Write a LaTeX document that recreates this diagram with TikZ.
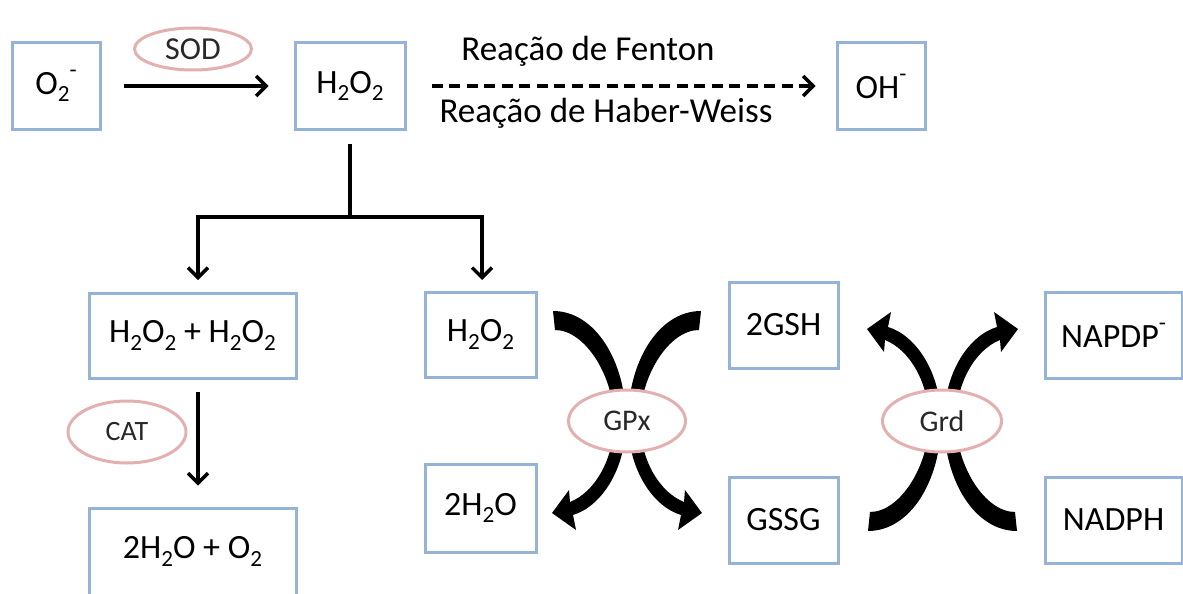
\documentclass[tikz,border=0pt]{standalone}
\usepackage{fontspec}
\setmainfont{Carlito}
\usetikzlibrary{arrows.meta,shapes.geometric}
\definecolor{boxblue}{RGB}{149,179,215}
\definecolor{ellpink}{RGB}{228,176,175}
\definecolor{elltext}{RGB}{40,40,40}
\newcommand{\chsub}[1]{\raisebox{-0.22em}{\scalebox{0.68}{#1}}}
\newcommand{\chsup}[1]{\raisebox{0.5em}{\scalebox{0.68}{#1}}}
\newcommand{\curvedarrowshape}{%
  \fill[black] (-67,-110) .. controls (-25,-110) and (6,-60) .. (6,0)
    .. controls (6,50) and (-20,86) .. (-47,94) -- (-44,109) -- (-68,92) -- (-51,69) -- (-50,81)
    .. controls (-25,71) and (-6,38) .. (-6,0)
    .. controls (-6,-45) and (-35,-91) .. (-65,-91) -- cycle;}
\tikzset{
  box/.style={draw=boxblue, line width=3pt, inner sep=0pt, font=\fontsize{34}{40}\selectfont, text=black},
  enz/.style={ellipse, draw=ellpink, line width=3pt, fill=white, inner sep=0pt, font=\fontsize{30}{36}\selectfont, text=elltext},
  conn/.style={line width=3.5pt, black},
  arr/.style={conn, -{Straight Barb[length=10pt,width=20pt]}},
  lbl/.style={font=\fontsize{35}{42}\selectfont, inner sep=0pt, text=black}
}
\begin{document}
\begin{tikzpicture}[x=1pt,y=-1pt]
\useasboundingbox (0,0) rectangle (1183,594);
\clip (0,0) rectangle (1183,594);
\fill[white] (0,0) rectangle (1183,594);

% boxes
\node[box, minimum width=88pt, minimum height=86pt] (o2m) at (56,86) {O\chsub{2}\chsup{-}};
\node[box, minimum width=110pt, minimum height=86pt] (h2o2top) at (350,86) {H\chsub{2}O\chsub{2}};
\node[box, minimum width=88pt, minimum height=86pt] (oh) at (881,86) {OH\chsup{-}};
\node[box, minimum width=207pt, minimum height=85pt] (hh) at (192.5,335.5) {H\chsub{2}O\chsub{2} + H\chsub{2}O\chsub{2}};
\node[box, minimum width=207pt, minimum height=87pt] (wo) at (192.5,551.5) {2H\chsub{2}O + O\chsub{2}};
\node[box, minimum width=111pt, minimum height=85pt] (h2o2mid) at (480.5,334.5) {H\chsub{2}O\chsub{2}};
\node[box, minimum width=111pt, minimum height=88pt] (h2o) at (480.5,508) {2H\chsub{2}O};
\node[box, minimum width=109pt, minimum height=86pt] (gsh) at (783.5,325) {2GSH};
\node[box, minimum width=109pt, minimum height=86pt] (gssg) at (783.5,520) {GSSG};
\node[box, minimum width=137pt, minimum height=86pt] (napdp) at (1113.5,335) {NAPDP\chsup{-}};
\node[box, minimum width=137pt, minimum height=86pt] (nadph) at (1113.5,520) {NADPH};

% top arrows
\draw[arr] ([xshift=22pt]o2m.east) -- ([xshift=-25pt]h2o2top.west);
\draw[arr, dash pattern=on 11pt off 6.5pt] ([xshift=25pt]h2o2top.east) -- ([xshift=-20pt]oh.west);
\node[lbl, anchor=base] (fenton) at (588,60) {Reação de Fenton};
\node[lbl, anchor=base] (haber) at (606,122) {Reação de Haber-Weiss};

% split
\coordinate (split) at (350,217);
\coordinate (tl) at (198,280);
\coordinate (tr) at (482,280);
\draw[conn] ([yshift=-13pt]h2o2top.south) -- (split);
\draw[arr] (split) -| (tl);
\draw[arr] (split) -| (tr);

% catalase arrow
\draw[arr] ([xshift=5.5pt,yshift=-12pt]hh.south) -- ([xshift=5.5pt,yshift=21pt]wo.north);

% curved arrows
\begin{scope}[shift={(620,421)}] \curvedarrowshape \end{scope}
\begin{scope}[shift={(634,421)}, xscale=-1] \curvedarrowshape \end{scope}
\begin{scope}[shift={(935,421)}, yscale=-1] \curvedarrowshape \end{scope}
\begin{scope}[shift={(950,421)}, xscale=-1, yscale=-1] \curvedarrowshape \end{scope}

% enzymes
\node[enz, minimum width=117pt, minimum height=42pt, font=\fontsize{32}{38}\selectfont] (sod) at (193,49) {SOD};
\node[enz, minimum width=118pt, minimum height=62pt, font=\fontsize{28}{34}\selectfont] (cat) at (127,432) {CAT};
\node[enz, minimum width=117pt, minimum height=62pt] (gpx) at (627,421) {GPx};
\node[enz, minimum width=119pt, minimum height=62pt] (grd) at (942,421) {Grd};
\end{tikzpicture}
\end{document}
